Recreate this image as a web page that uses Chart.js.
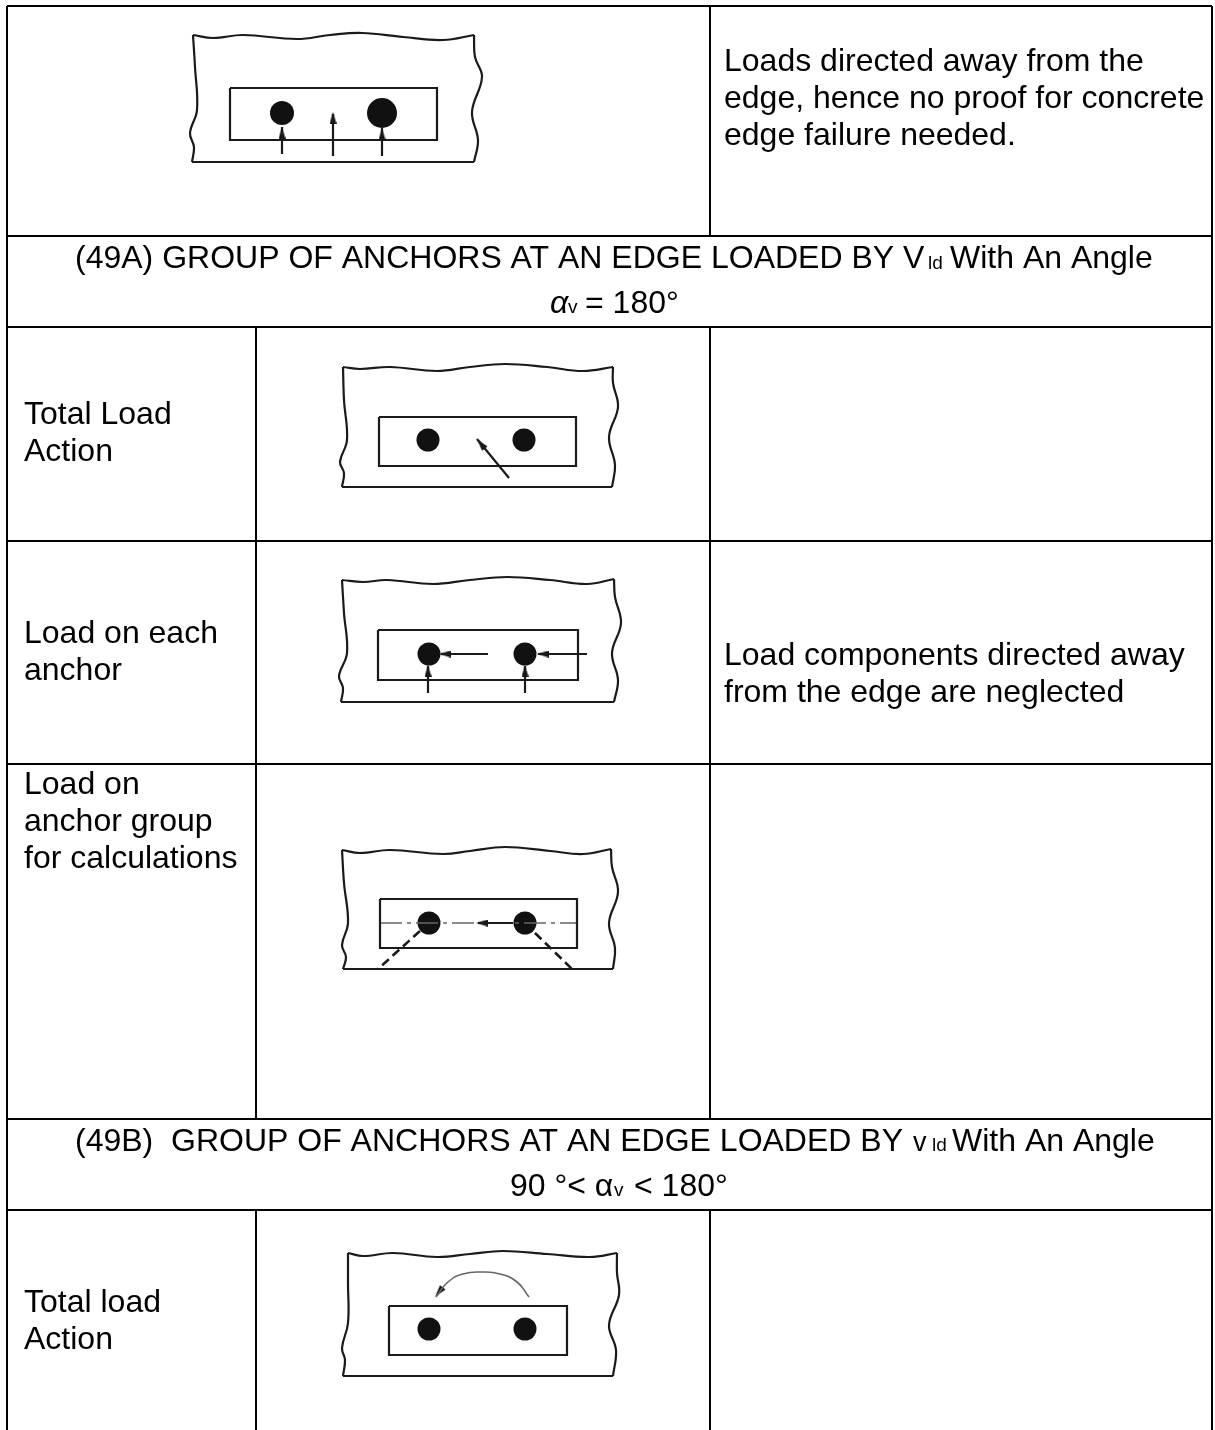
<!DOCTYPE html>
<html lang="en">
<head>
  <meta charset="UTF-8" />
  <title>Group of anchors at an edge</title>
  <script src="https://cdn.jsdelivr.net/npm/chart.js"></script>
  <style>
    html, body { margin: 0; padding: 0; background: #fff; }
    canvas { display: block; }
  </style>
</head>
<body>
  <canvas id="grafico" width="1215" height="1430"></canvas>

  <script>
  // table rules, [x0, y0, x1, y1]
  const tableRules = [
    [7, 6, 1212, 6], [7, 236, 1212, 236], [7, 327, 1212, 327], [7, 541, 1212, 541],
    [7, 764, 1212, 764], [7, 1119, 1212, 1119], [7, 1210, 1212, 1210],
    [7, 6, 7, 1430], [1212, 6, 1212, 1430],
    [710, 6, 710, 236], [710, 327, 710, 1119], [710, 1210, 710, 1430],
    [256, 327, 256, 1119], [256, 1210, 256, 1430]
  ];

  // plate outlines (wavy edges)
  const wavyEdges = [
    // diagram 1
    [[193,35],[213,38],[243,35],[297,39],[330,35],[362,33],[403,37],[443,40],[474,35]],
    [[474,35],[475,57],[482,77],[472,112],[478,140],[474,162]],
    [[193,35],[195,67],[197,110],[190,133],[194,147],[192,162]],
    // diagram 2
    [[343,367],[360,369],[390,367],[437,371],[470,367],[505,364],[547,367],[583,371],[613,367]],
    [[613,367],[613,383],[618,407],[609,437],[615,465],[612,487]],
    [[343,367],[344,400],[347,440],[340,462],[344,473],[342,487]],
    // diagram 3
    [[342,580],[363,582],[387,580],[433,584],[470,580],[507,577],[550,580],[587,584],[614,579]],
    [[614,579],[615,597],[621,623],[612,653],[618,680],[614,702]],
    [[342,580],[344,613],[347,653],[339,676],[343,688],[341,702]],
    // diagram 4
    [[342,850],[360,853],[390,850],[443,854],[470,851],[505,847],[550,851],[583,854],[611,849]],
    [[611,849],[612,867],[618,892],[609,923],[615,948],[613,969]],
    [[342,850],[344,883],[348,923],[342,945],[346,957],[343,969]],
    // diagram 5
    [[348,1253],[363,1256],[393,1253],[437,1257],[470,1254],[503,1251],[547,1254],[590,1257],[617,1253]],
    [[617,1253],[617,1273],[619,1295],[609,1325],[616,1350],[613,1376]],
    [[348,1253],[348,1283],[348,1323],[342,1348],[345,1360],[343,1376]]
  ];

  // straight bottoms, base plates and arrow shafts
  const straightLines = [
    [[192,162],[474,162]], [[342,487],[612,487]], [[341,702],[614,702]], [[343,969],[613,969]], [[343,1376],[613,1376]],
    [[230,88],[437,88],[437,140],[230,140],[230,88]],
    [[379,417],[576,417],[576,466],[379,466],[379,417]],
    [[378,630],[578,630],[578,680],[378,680],[378,630]],
    [[380,899],[577,899],[577,948],[380,948],[380,899]],
    [[389,1306],[567,1306],[567,1355],[389,1355],[389,1306]],
    [[282,154],[282,127]], [[333,156],[333,114]], [[382,156],[382,128]],
    [[509,478],[477,439]],
    [[488,654],[441,654]], [[587,654],[538,654]], [[428,693],[428,666]], [[525,693],[525,666]],
    [[513,923],[478,923]]
  ];

  // anchors: x, y, radius
  const anchorX = [282, 382, 428, 524, 429, 525, 429, 525, 429, 525];
  const anchorY = [113, 113, 440, 440, 654, 654, 923, 923, 1329, 1329];
  const anchorR = [12, 15, 11.5, 11.5, 11.5, 11.5, 11.5, 11.5, 11.5, 11.5];

  // arrow heads: x, y, direction in degrees
  const headX = [282, 333, 382, 481, 445, 543, 428, 525, 482, 439];
  const headY = [133, 118, 134, 444, 654, 654, 671, 671, 923, 1292];
  const headAngle = [0, 0, 0, -39, -90, -90, 0, 0, -90, -141];

  const centreLine = [[380,923],[577,923]];
  const bearingLines = [[[420,931],[378,969]], [[535,933],[572,969]]];
  const momentArc = [[529,1297],[517,1282],[500,1274],[482,1272],[463,1274],[448,1282],[436,1297]];

  // text runs
  const textRuns = [
    "Loads directed away from the", "edge, hence no proof for concrete", "edge failure needed.",
    "(49A) GROUP OF ANCHORS AT AN EDGE LOADED BY V", "With An Angle",
    "= 180°",
    "Total Load", "Action",
    "Load on each", "anchor",
    "Load components directed away", "from the edge are neglected",
    "Load on", "anchor group", "for calculations",
    "(49B)  GROUP OF ANCHORS AT AN EDGE LOADED BY", "With An Angle",
    "90 °< α", "< 180°",
    "Total load", "Action"
  ];
  const textX = [724, 724, 724, 75, 950, 585, 24, 24, 24, 24, 724, 724, 24, 24, 24, 75, 952, 510, 634, 24, 24];
  const textY = [71, 108, 145, 268, 268, 313, 424, 461, 643, 680, 665, 702, 794, 831, 868, 1151, 1151, 1196, 1196, 1312, 1349];

  // small runs: subscripts
  const smallRuns = ["ld", "v", "ld", "v"];
  const smallX = [928, 568, 932, 614];
  const smallY = [269, 313, 1151, 1196];

  // the mid-size v of the second heading
  const midRuns = ["v"];
  const midX = [913];
  const midY = [1151];

  // italic alpha of the first heading
  const italicRuns = ["α"];
  const italicX = [550];
  const italicY = [313];

  const toPoints = list => list.map(p => ({ x: p[0], y: p[1] }));

  // narrow arrow head used as point style
  const arrowHead = document.createElement("canvas");
  arrowHead.width = 7;
  arrowHead.height = 12;
  const headCtx = arrowHead.getContext("2d");
  headCtx.fillStyle = "#111";
  headCtx.beginPath();
  headCtx.moveTo(3.5, 0);
  headCtx.lineTo(7, 12);
  headCtx.lineTo(0, 12);
  headCtx.closePath();
  headCtx.fill();

  const lineSet = (points, extra) => Object.assign({
    data: toPoints(points),
    showLine: true,
    borderColor: "#1a1a1a",
    borderWidth: 2.2,
    pointRadius: 0,
    tension: 0
  }, extra);

  const datasets = [];
  tableRules.forEach(r => {
    datasets.push(lineSet([[r[0], r[1]], [r[2], r[3]]], { borderColor: "#000", borderWidth: 2 }));
  });
  wavyEdges.forEach(e => datasets.push(lineSet(e, { tension: 0.4 })));
  straightLines.forEach(l => datasets.push(lineSet(l)));
  datasets.push(lineSet(centreLine, { borderColor: "#666", borderWidth: 1.6, borderDash: [22, 5, 4, 5] }));
  bearingLines.forEach(l => datasets.push(lineSet(l, { borderWidth: 2.6, borderDash: [9, 5] })));
  datasets.push(lineSet(momentArc, { borderColor: "#666", borderWidth: 1.6, tension: 0.5 }));
  datasets.push({
    data: anchorX.map((x, i) => ({ x: x, y: anchorY[i] })),
    pointStyle: "circle",
    pointRadius: anchorR,
    pointBackgroundColor: "#111",
    pointBorderWidth: 0,
    showLine: false
  });
  datasets.push({
    data: headX.map((x, i) => ({ x: x, y: headY[i] })),
    pointStyle: arrowHead,
    pointRotation: headAngle,
    pointRadius: 6,
    showLine: false
  });

  // table text, placed through the scales
  const tableText = {
    id: "tableText",
    afterDatasetsDraw(chart) {
      const ctx = chart.ctx;
      const sx = chart.scales.x;
      const sy = chart.scales.y;
      const put = (runs, xs, ys, font) => {
        ctx.font = font;
        runs.forEach((t, i) => ctx.fillText(t, sx.getPixelForValue(xs[i]), sy.getPixelForValue(ys[i])));
      };
      ctx.save();
      ctx.fillStyle = "#000";
      ctx.textBaseline = "alphabetic";
      put(textRuns, textX, textY, '32px "Liberation Sans"');
      put(smallRuns, smallX, smallY, '19px "Liberation Sans"');
      put(midRuns, midX, midY, '27px "Liberation Sans"');
      put(italicRuns, italicX, italicY, 'italic 32px "Liberation Sans"');
      ctx.restore();
    }
  };

  new Chart(document.getElementById("grafico").getContext("2d"), {
    type: "scatter",
    data: { datasets: datasets },
    plugins: [tableText],
    options: {
      responsive: false,
      animation: false,
      layout: { padding: 0, autoPadding: false },
      plugins: { legend: { display: false }, tooltip: { enabled: false } },
      scales: {
        x: { type: "linear", display: false, min: 0, max: 1215 },
        y: { type: "linear", display: false, min: 0, max: 1430, reverse: true }
      }
    }
  });
  </script>
</body>
</html>
